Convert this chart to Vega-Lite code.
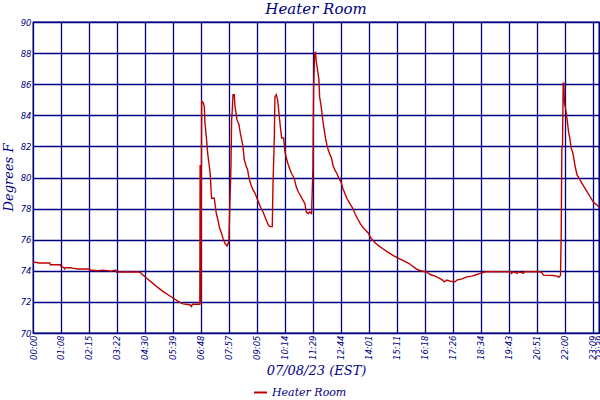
{
  "$schema": "https://vega.github.io/schema/vega-lite/v6.json",
  "width": 566,
  "height": 311,
  "autosize": "none",
  "padding": {"left": 33, "top": 22, "right": 1, "bottom": 67},
  "background": "white",
  "title": {
    "text": "Heater Room",
    "font": "DejaVu Serif",
    "fontStyle": "italic",
    "fontWeight": "normal",
    "fontSize": 15,
    "color": "#000080",
    "anchor": "middle",
    "frame": "group",
    "orient": "top",
    "baseline": "alphabetic",
    "offset": 9,
    "dy": 20
  },
  "config": {
    "view": {"stroke": "#000080", "strokeWidth": 1.3},
    "axis": {
      "grid": true,
      "gridColor": "#000080",
      "gridOpacity": 1,
      "gridWidth": 1.3,
      "domain": false,
      "ticks": false,
      "labelFont": "DejaVu Sans",
      "labelFontStyle": "italic",
      "labelFontSize": 8.5,
      "labelColor": "#000080",
      "labelPadding": 2,
      "titleFont": "DejaVu Serif",
      "titleFontStyle": "italic",
      "titleFontWeight": "normal",
      "titleColor": "#000080"
    }
  },
  "data": {
    "values": [
      {"pos": 0.0, "temp": 74.57}, {"pos": 0.24, "temp": 74.5}, {"pos": 0.6, "temp": 74.5},
      {"pos": 0.62, "temp": 74.39}, {"pos": 0.98, "temp": 74.39}, {"pos": 1.0, "temp": 74.3},
      {"pos": 1.1, "temp": 74.2}, {"pos": 1.13, "temp": 74.12}, {"pos": 1.16, "temp": 74.2},
      {"pos": 1.37, "temp": 74.2}, {"pos": 1.4, "temp": 74.17}, {"pos": 1.61, "temp": 74.12},
      {"pos": 2.02, "temp": 74.12}, {"pos": 2.05, "temp": 74.05}, {"pos": 2.3, "temp": 74.0},
      {"pos": 2.5, "temp": 74.04}, {"pos": 2.8, "temp": 73.98}, {"pos": 2.95, "temp": 74.04},
      {"pos": 2.98, "temp": 73.92}, {"pos": 3.81, "temp": 73.92}, {"pos": 4.05, "temp": 73.54},
      {"pos": 4.41, "temp": 73.0}, {"pos": 4.64, "temp": 72.68}, {"pos": 5.0, "temp": 72.25},
      {"pos": 5.24, "temp": 71.97}, {"pos": 5.36, "temp": 71.87}, {"pos": 5.6, "temp": 71.82},
      {"pos": 5.66, "temp": 71.7}, {"pos": 5.7, "temp": 71.85}, {"pos": 5.96, "temp": 71.85},
      {"pos": 5.97, "temp": 80.8}, {"pos": 6.0, "temp": 71.9}, {"pos": 6.025, "temp": 84.9},
      {"pos": 6.072, "temp": 84.84}, {"pos": 6.12, "temp": 84.58}, {"pos": 6.144, "temp": 83.5},
      {"pos": 6.19, "temp": 82.65}, {"pos": 6.239, "temp": 81.57}, {"pos": 6.287, "temp": 80.9},
      {"pos": 6.334, "temp": 80.17}, {"pos": 6.358, "temp": 79.3}, {"pos": 6.382, "temp": 78.67},
      {"pos": 6.477, "temp": 78.67}, {"pos": 6.5, "temp": 78.34}, {"pos": 6.548, "temp": 77.7},
      {"pos": 6.62, "temp": 77.16}, {"pos": 6.667, "temp": 76.73}, {"pos": 6.739, "temp": 76.4},
      {"pos": 6.786, "temp": 76.1}, {"pos": 6.858, "temp": 75.76}, {"pos": 6.93, "temp": 75.6},
      {"pos": 6.977, "temp": 75.76}, {"pos": 7.0, "temp": 75.98}, {"pos": 7.025, "temp": 77.8},
      {"pos": 7.072, "temp": 80.7}, {"pos": 7.096, "temp": 83.72}, {"pos": 7.12, "temp": 84.37},
      {"pos": 7.144, "temp": 85.33}, {"pos": 7.191, "temp": 85.33}, {"pos": 7.215, "temp": 84.58},
      {"pos": 7.287, "temp": 83.72}, {"pos": 7.358, "temp": 83.4}, {"pos": 7.406, "temp": 82.86},
      {"pos": 7.453, "temp": 82.43}, {"pos": 7.501, "temp": 82.0}, {"pos": 7.548, "temp": 81.14},
      {"pos": 7.62, "temp": 80.7}, {"pos": 7.667, "temp": 80.5}, {"pos": 7.715, "temp": 79.96},
      {"pos": 7.787, "temp": 79.53}, {"pos": 7.858, "temp": 79.2}, {"pos": 7.93, "temp": 79.0},
      {"pos": 8.001, "temp": 78.67}, {"pos": 8.072, "temp": 78.34}, {"pos": 8.144, "temp": 78.02},
      {"pos": 8.215, "temp": 77.8}, {"pos": 8.287, "temp": 77.48}, {"pos": 8.358, "temp": 77.16},
      {"pos": 8.406, "temp": 76.95}, {"pos": 8.453, "temp": 76.84}, {"pos": 8.548, "temp": 76.84},
      {"pos": 8.572, "temp": 79.4}, {"pos": 8.62, "temp": 82.54}, {"pos": 8.644, "temp": 85.2},
      {"pos": 8.691, "temp": 85.33}, {"pos": 8.739, "temp": 85.0}, {"pos": 8.787, "temp": 84.15},
      {"pos": 8.834, "temp": 83.3}, {"pos": 8.882, "temp": 82.54}, {"pos": 8.953, "temp": 82.54},
      {"pos": 9.001, "temp": 81.68}, {"pos": 9.049, "temp": 81.25}, {"pos": 9.12, "temp": 80.82},
      {"pos": 9.167, "temp": 80.58}, {"pos": 9.238, "temp": 80.26}, {"pos": 9.333, "temp": 79.94},
      {"pos": 9.405, "temp": 79.4}, {"pos": 9.476, "temp": 79.08}, {"pos": 9.548, "temp": 78.86},
      {"pos": 9.643, "temp": 78.54}, {"pos": 9.714, "temp": 78.32}, {"pos": 9.762, "temp": 77.78},
      {"pos": 9.833, "temp": 77.68}, {"pos": 9.881, "temp": 77.78}, {"pos": 9.952, "temp": 77.68},
      {"pos": 10.0, "temp": 80.6}, {"pos": 10.024, "temp": 85.6}, {"pos": 10.06, "temp": 88.0},
      {"pos": 10.095, "temp": 88.04}, {"pos": 10.119, "temp": 87.46}, {"pos": 10.167, "temp": 86.9},
      {"pos": 10.214, "temp": 86.3}, {"pos": 10.238, "temp": 85.2}, {"pos": 10.286, "temp": 84.67},
      {"pos": 10.333, "temp": 84.0}, {"pos": 10.357, "temp": 83.6}, {"pos": 10.405, "temp": 83.05},
      {"pos": 10.452, "temp": 82.5}, {"pos": 10.5, "temp": 82.09}, {"pos": 10.548, "temp": 81.76},
      {"pos": 10.595, "temp": 81.55}, {"pos": 10.667, "temp": 81.23}, {"pos": 10.714, "temp": 80.8},
      {"pos": 10.786, "temp": 80.47}, {"pos": 10.857, "temp": 80.26}, {"pos": 10.929, "temp": 79.94},
      {"pos": 11.0, "temp": 79.72}, {"pos": 11.071, "temp": 79.29}, {"pos": 11.143, "temp": 78.97},
      {"pos": 11.214, "temp": 78.65}, {"pos": 11.286, "temp": 78.43}, {"pos": 11.357, "temp": 78.2},
      {"pos": 11.429, "temp": 78.0}, {"pos": 11.5, "temp": 77.68}, {"pos": 11.595, "temp": 77.35},
      {"pos": 11.69, "temp": 77.03}, {"pos": 11.786, "temp": 76.8}, {"pos": 11.881, "temp": 76.6},
      {"pos": 11.976, "temp": 76.43}, {"pos": 12.048, "temp": 76.17}, {"pos": 12.143, "temp": 75.96},
      {"pos": 12.262, "temp": 75.74}, {"pos": 12.381, "temp": 75.57}, {"pos": 12.5, "temp": 75.42},
      {"pos": 12.619, "temp": 75.27}, {"pos": 12.738, "temp": 75.14}, {"pos": 12.857, "temp": 74.99},
      {"pos": 12.976, "temp": 74.88}, {"pos": 13.095, "temp": 74.77}, {"pos": 13.214, "temp": 74.67},
      {"pos": 13.333, "temp": 74.56}, {"pos": 13.452, "temp": 74.45}, {"pos": 13.571, "temp": 74.28},
      {"pos": 13.69, "temp": 74.13}, {"pos": 13.81, "temp": 74.02}, {"pos": 14.071, "temp": 73.91},
      {"pos": 14.19, "temp": 73.76}, {"pos": 14.369, "temp": 73.66}, {"pos": 14.488, "temp": 73.55},
      {"pos": 14.607, "temp": 73.44}, {"pos": 14.69, "temp": 73.29}, {"pos": 14.786, "temp": 73.4},
      {"pos": 14.905, "temp": 73.33}, {"pos": 15.083, "temp": 73.29}, {"pos": 15.143, "temp": 73.4},
      {"pos": 15.321, "temp": 73.48}, {"pos": 15.5, "temp": 73.61}, {"pos": 15.679, "temp": 73.66},
      {"pos": 15.857, "temp": 73.76}, {"pos": 15.976, "temp": 73.83}, {"pos": 16.155, "temp": 73.94},
      {"pos": 17.048, "temp": 73.94}, {"pos": 17.1, "temp": 73.83}, {"pos": 17.15, "temp": 73.94},
      {"pos": 17.29, "temp": 73.83}, {"pos": 17.35, "temp": 73.94}, {"pos": 17.52, "temp": 73.85},
      {"pos": 17.56, "temp": 73.94}, {"pos": 18.119, "temp": 73.94}, {"pos": 18.18, "temp": 73.87},
      {"pos": 18.238, "temp": 73.72}, {"pos": 18.595, "temp": 73.7}, {"pos": 18.714, "temp": 73.66},
      {"pos": 18.786, "temp": 73.59}, {"pos": 18.845, "temp": 73.7}, {"pos": 18.869, "temp": 76.17},
      {"pos": 18.893, "temp": 81.87}, {"pos": 18.917, "temp": 81.98}, {"pos": 18.94, "temp": 86.06},
      {"pos": 18.964, "temp": 86.06}, {"pos": 18.988, "temp": 84.77}, {"pos": 19.036, "temp": 84.34},
      {"pos": 19.083, "temp": 83.7}, {"pos": 19.131, "temp": 82.95}, {"pos": 19.179, "temp": 82.52},
      {"pos": 19.226, "temp": 81.87}, {"pos": 19.274, "temp": 81.66}, {"pos": 19.321, "temp": 81.23},
      {"pos": 19.369, "temp": 80.69}, {"pos": 19.44, "temp": 80.15}, {"pos": 19.512, "temp": 79.94},
      {"pos": 19.583, "temp": 79.72}, {"pos": 19.655, "temp": 79.5}, {"pos": 19.726, "temp": 79.29},
      {"pos": 19.798, "temp": 79.08}, {"pos": 19.869, "temp": 78.86}, {"pos": 19.94, "temp": 78.65},
      {"pos": 20.012, "temp": 78.43}, {"pos": 20.083, "temp": 78.32}, {"pos": 20.155, "temp": 78.22},
      {"pos": 20.22, "temp": 78.11}
    ]
  },
  "mark": {"type": "line", "strokeWidth": 1.4, "interpolate": "linear", "clip": true},
  "encoding": {
    "x": {
      "field": "pos",
      "type": "quantitative",
      "scale": {"domain": [0, 20.22], "nice": false, "zero": false},
      "axis": {
        "values": [0, 1, 2, 3, 4, 5, 6, 7, 8, 9, 10, 11, 12, 13, 14, 15, 16, 17, 18, 19, 20, 20.22],
        "labelExpr": "datum.value > 20.1 ? '23:39' : ['00:00','01:08','02:15','03:22','04:30','05:39','06:48','07:57','09:05','10:14','11:29','12:44','14:01','15:11','16:18','17:26','18:34','19:43','20:51','22:00','23:09'][round(datum.value)]",
        "labelAngle": -90,
        "labelOverlap": false,
        "labelBound": false,
        "labelFlush": false,
        "title": "07/08/23 (EST)",
        "titleFontSize": 13,
        "titleX": 283,
        "titleY": 37,
        "titleAlign": "center",
        "titleBaseline": "middle"
      }
    },
    "y": {
      "field": "temp",
      "type": "quantitative",
      "scale": {"domain": [70, 90], "nice": false, "zero": false},
      "axis": {
        "values": [70, 72, 74, 76, 78, 80, 82, 84, 86, 88, 90],
        "labelBaseline": "middle",
        "labelFlush": false,
        "title": "Degrees F",
        "titleFontSize": 13,
        "titleAngle": 270,
        "titleX": -25,
        "titleY": 155,
        "titleAlign": "center",
        "titleBaseline": "middle"
      }
    },
    "color": {
      "datum": "Heater Room",
      "type": "nominal",
      "scale": {"domain": ["Heater Room"], "range": ["#C00000"]},
      "legend": {
        "title": null,
        "orient": "none",
        "legendX": 220,
        "legendY": 363,
        "padding": 0,
        "symbolType": "stroke",
        "symbolSize": 169,
        "symbolStrokeWidth": 2,
        "labelFont": "DejaVu Serif",
        "labelFontStyle": "italic",
        "labelFontSize": 11,
        "labelColor": "#000080"
      }
    }
  }
}
